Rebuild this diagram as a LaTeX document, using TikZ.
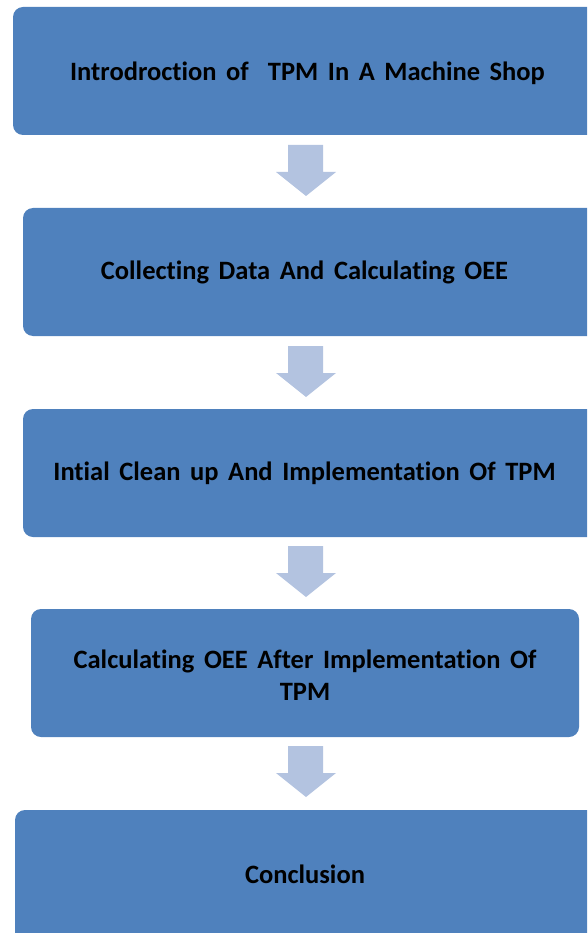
\documentclass[tikz,border=0pt]{standalone}
\usepackage{fontspec}
\setmainfont{Carlito}[Ligatures={NoCommon}, WordSpace=1.6]
\definecolor{boxblue}{HTML}{4F81BD}
\definecolor{arrowblue}{HTML}{B3C3E0}
\tikzset{
  box/.style={rectangle, fill=boxblue, draw=none, rounded corners=10pt, inner sep=0pt},
  lbl/.style={font=\fontsize{26.5}{32}\selectfont\bfseries, text=black, align=center, inner sep=0pt},
  blockarrow/.style={fill=arrowblue, draw=none}
}
\begin{document}
\begin{tikzpicture}[x=1pt,y=-1pt]
\useasboundingbox (0,0) rectangle (587,933);
\begin{scope}
\clip (0,0) rectangle (587,933);
% boxes
\node[box, minimum width=587pt, minimum height=128pt] (b1) at (306.5,71) {};
\node[box, minimum width=577pt, minimum height=128pt] (b2) at (311.5,272) {};
\node[box, minimum width=577pt, minimum height=128pt] (b3) at (311.5,473) {};
\node[box, minimum width=548pt, minimum height=128pt] (b4) at (305,673) {};
\node[box, minimum width=585pt, minimum height=136pt] (b5) at (307.5,878) {};
\end{scope}
% labels
\node[lbl] (t1) at (307.5,73) {Introdroction of \ TPM In A Machine Shop};
\node[lbl] (t2) at (304.5,272) {Collecting Data And Calculating OEE};
\node[lbl] (t3) at (304.5,473) {Intial Clean up And Implementation Of TPM};
\node[lbl] (t4) at (305,675) {Calculating OEE After Implementation Of\\TPM};
\node[lbl] (t5) at (305,874) {Conclusion};
% block arrows
\foreach \n/\y in {a1/145,a2/346,a3/546,a4/746}{
  \fill[blockarrow] (288,\y) -- (323,\y) -- (323,\y+27) -- (336,\y+27) -- (306,\y+51) -- (276,\y+27) -- (288,\y+27) -- cycle;
}
\end{tikzpicture}
\end{document}
